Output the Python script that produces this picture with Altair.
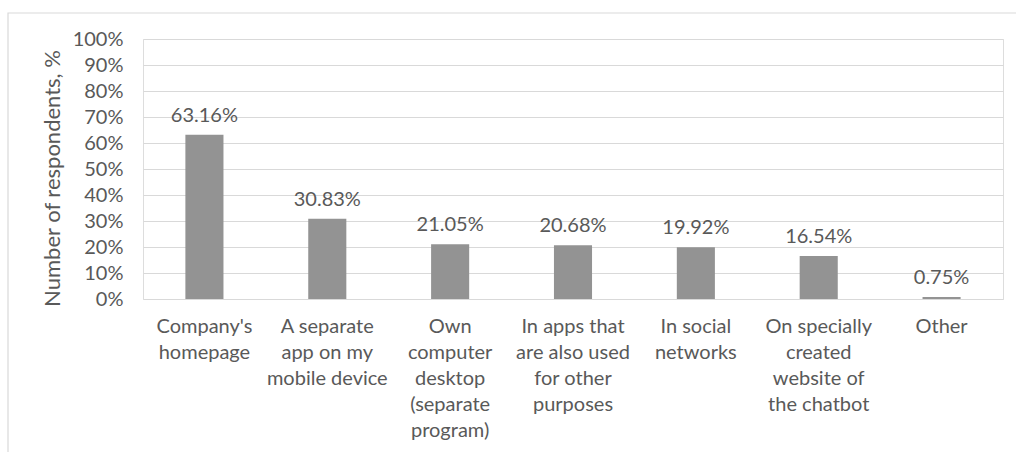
import altair as alt
import pandas as pd

categories = [
    "Company's|homepage",
    "A separate|app on my|mobile device",
    "Own|computer|desktop|(separate|program)",
    "In apps that|are also used|for other|purposes",
    "In social|networks",
    "On specially|created|website of|the chatbot",
    "Other",
]
values = [63.16, 30.83, 21.05, 20.68, 19.92, 16.54, 0.75]
y_ticks = list(range(0, 101, 10))

df = pd.DataFrame({"cat": categories, "val": values})
df["lbl"] = [f"{v:.2f}%" for v in values]

FONT = "Lato"
TXT = "#595959"
FS = 20

x_enc = alt.X(
    "cat:N",
    sort=categories,
    title=None,
    scale=alt.Scale(paddingInner=0.69, paddingOuter=0.345),
    axis=alt.Axis(
        labelExpr="split(datum.label, '|')",
        labelAngle=0,
        labelFont=FONT,
        labelFontSize=FS,
        labelColor=TXT,
        labelLineHeight=26,
        labelPadding=17,
        labelBaseline="top",
        ticks=False,
        domain=False,
        labelLimit=200,
        labelOverlap=False,
    ),
)

y_enc = alt.Y(
    "val:Q",
    scale=alt.Scale(domain=[0, 100]),
    axis=alt.Axis(
        values=y_ticks,
        labelOverlap=False,
        labelExpr="datum.value + '%'",
        title="Number of respondents, %",
        titleFont=FONT,
        titleFontSize=22,
        titleFontWeight="normal",
        titleColor=TXT,
        titlePadding=8,
        titleY=139,
        labelFont=FONT,
        labelFontSize=FS,
        labelColor=TXT,
        labelPadding=20,
        ticks=False,
        domain=False,
        gridColor="#d9d9d9",
        gridWidth=1.2,
    ),
)

border = alt.Chart(pd.DataFrame({"a": [0]})).mark_rect(
    fill=None, stroke="#d9d9d9", strokeWidth=1.2
).encode(
    x=alt.value(-135), x2=alt.value(880), y=alt.value(-26), y2=alt.value(420)
)

bars = alt.Chart(df).mark_bar(color="#939393").encode(x=x_enc, y=y_enc)

labels = alt.Chart(df).mark_text(
    font=FONT, fontSize=FS, color=TXT, baseline="bottom", dy=-9
).encode(x=x_enc, y=y_enc, text="lbl:N")

chart = (
    alt.layer(border, bars, labels)
    .properties(
        width=860,
        height=260,
        autosize=alt.AutoSizeParams(type="none"),
        padding={"left": 143, "top": 39, "right": 13, "bottom": 153},
    )
    .configure_view(stroke=None)
    .configure(background="white")
)

chart.save("out.html", embed_options={"renderer": "svg", "actions": False})
